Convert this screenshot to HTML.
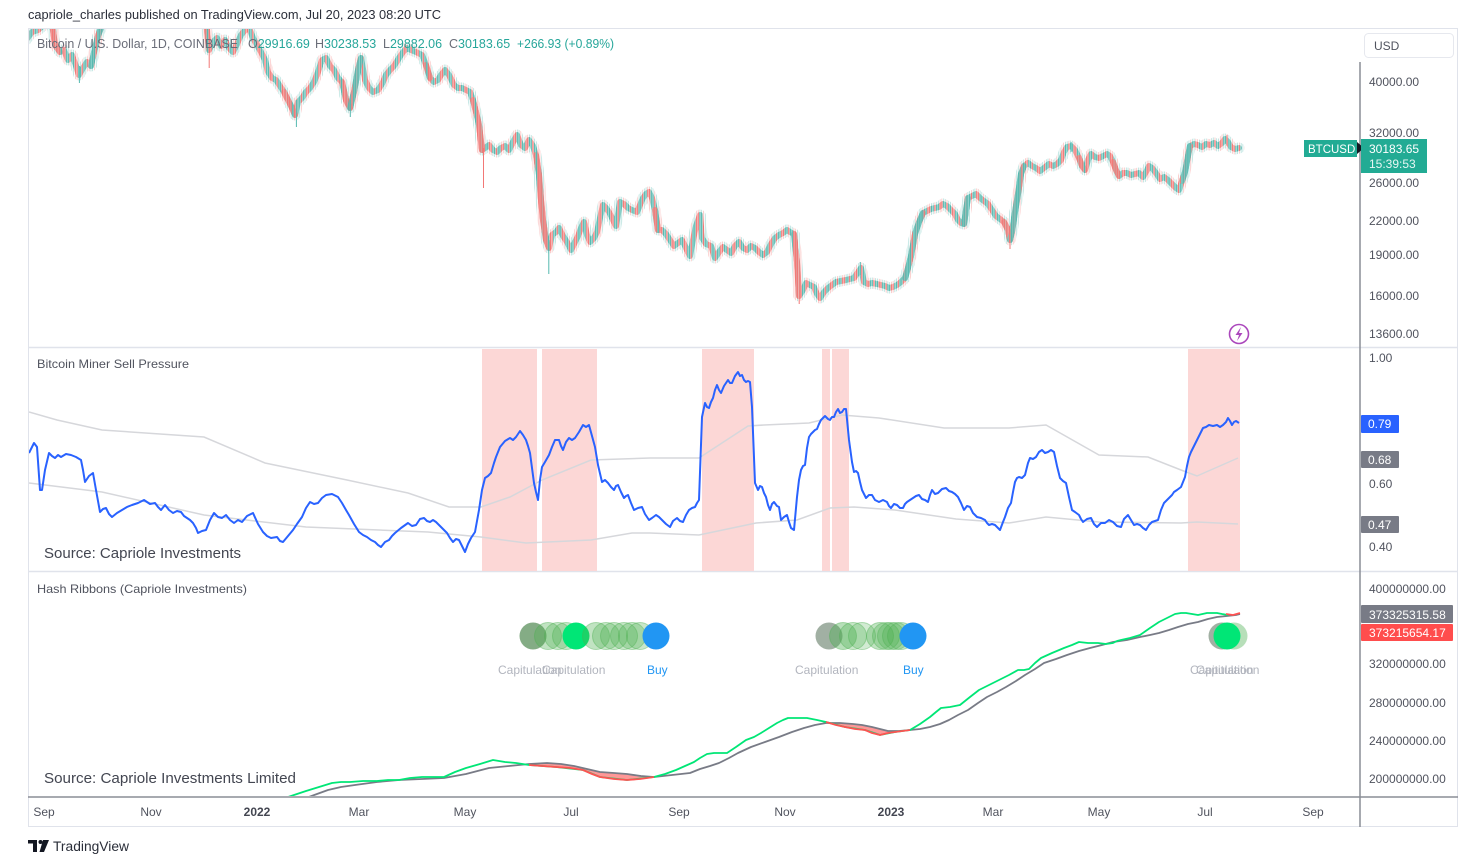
<!DOCTYPE html>
<html>
<head>
<meta charset="utf-8">
<style>
html,body{margin:0;padding:0;background:#fff;}
body{width:1472px;height:865px;overflow:hidden;}
svg{display:block;font-family:"Liberation Sans",sans-serif;}
.ax{font-size:12px;fill:#50535e;}
.lbl{font-size:12px;fill:#50535e;}
</style>
</head>
<body>
<svg width="1472" height="865" viewBox="0 0 1472 865" xmlns="http://www.w3.org/2000/svg">
<defs>
  <clipPath id="c1"><rect x="29" y="29" width="1331" height="318"/></clipPath>
  <clipPath id="c2"><rect x="29" y="349" width="1331" height="222"/></clipPath>
  <clipPath id="c3"><rect x="29" y="573" width="1331" height="223"/></clipPath>
  <pattern id="pc" patternUnits="userSpaceOnUse" x="43.35" y="0" width="12.18" height="10">
    <rect x="0" y="0" width="1.3" height="10" fill="#26a69a"/>
    <rect x="1.74" y="0" width="1.3" height="10" fill="#ef5350"/>
    <rect x="3.48" y="0" width="1.3" height="10" fill="#26a69a"/>
    <rect x="5.22" y="0" width="1.3" height="10" fill="#26a69a"/>
    <rect x="6.96" y="0" width="1.3" height="10" fill="#ef5350"/>
    <rect x="8.70" y="0" width="1.3" height="10" fill="#ef5350"/>
    <rect x="10.44" y="0" width="1.3" height="10" fill="#26a69a"/>
  </pattern>
  <pattern id="pw" patternUnits="userSpaceOnUse" x="43.35" y="0" width="12.18" height="10">
    <rect x="0.35" y="0" width="0.6" height="10" fill="#26a69a"/>
    <rect x="2.09" y="0" width="0.6" height="10" fill="#ef5350"/>
    <rect x="3.83" y="0" width="0.6" height="10" fill="#26a69a"/>
    <rect x="5.57" y="0" width="0.6" height="10" fill="#26a69a"/>
    <rect x="7.31" y="0" width="0.6" height="10" fill="#ef5350"/>
    <rect x="9.05" y="0" width="0.6" height="10" fill="#ef5350"/>
    <rect x="10.79" y="0" width="0.6" height="10" fill="#26a69a"/>
  </pattern>
  <pattern id="pr" patternUnits="userSpaceOnUse" x="43.35" y="0" width="12.18" height="10">
    <rect x="0" y="0" width="1.3" height="10" fill="#ef5350"/>
    <rect x="1.74" y="0" width="1.3" height="10" fill="#ef5350"/>
    <rect x="3.48" y="0" width="1.3" height="10" fill="#ef5350"/>
    <rect x="5.22" y="0" width="1.3" height="10" fill="#26a69a"/>
    <rect x="6.96" y="0" width="1.3" height="10" fill="#ef5350"/>
    <rect x="8.70" y="0" width="1.3" height="10" fill="#ef5350"/>
    <rect x="10.44" y="0" width="1.3" height="10" fill="#ef5350"/>
  </pattern>
  <pattern id="pg" patternUnits="userSpaceOnUse" x="43.35" y="0" width="12.18" height="10">
    <rect x="0" y="0" width="1.3" height="10" fill="#26a69a"/>
    <rect x="1.74" y="0" width="1.3" height="10" fill="#26a69a"/>
    <rect x="3.48" y="0" width="1.3" height="10" fill="#ef5350"/>
    <rect x="5.22" y="0" width="1.3" height="10" fill="#26a69a"/>
    <rect x="6.96" y="0" width="1.3" height="10" fill="#26a69a"/>
    <rect x="8.70" y="0" width="1.3" height="10" fill="#26a69a"/>
    <rect x="10.44" y="0" width="1.3" height="10" fill="#26a69a"/>
  </pattern>
</defs>
<rect x="0" y="0" width="1472" height="865" fill="#fff"/>

<!-- header -->
<text x="28" y="19" font-size="12.5" fill="#2a2e39" textLength="413" lengthAdjust="spacingAndGlyphs">capriole_charles published on TradingView.com, Jul 20, 2023 08:20 UTC</text>

<!-- frame -->
<rect x="28.5" y="28.5" width="1429" height="798" fill="none" stroke="#e0e3eb" stroke-width="1"/>
<line x1="28" y1="347.5" x2="1458" y2="347.5" stroke="#e0e3eb" stroke-width="1.5"/>
<line x1="28" y1="571.5" x2="1458" y2="571.5" stroke="#e0e3eb" stroke-width="1.5"/>

<!-- pink bands -->
<g fill="#fcd7d6">
  <rect x="482" y="349" width="55" height="222"/>
  <rect x="542" y="349" width="55" height="222"/>
  <rect x="702" y="349" width="52" height="222"/>
  <rect x="822" y="349" width="8" height="222"/>
  <rect x="832" y="349" width="17" height="222"/>
  <rect x="1188" y="349" width="52" height="222"/>
</g>

<!-- candles (static) -->
<g clip-path="url(#c1)" fill="none" stroke-linejoin="round" stroke-linecap="round" opacity="0.78">
  <g stroke="url(#pw)" stroke-width="11" opacity="0.6">
    <polyline points="26,40 32,32 38,30 44,25 50,20 53,30 55,45 60,52 64,50 68,60 72,55 76,66 79,75 83,68 87,62 91,66 95,48 98,36 102,25 106,10 110,-10"/>
    <polyline points="200,-10 204,0 207,30 209,50 213,42 217,38 221,46 225,40 229,48 233,52 237,44 241,35 245,30 249,28 253,38 257,45 261,52 265,60 268,72 272,78 276,80 280,86 284,92 288,100 292,108 295,115 298,102 302,98 306,92 310,88 314,82 318,72 322,60 326,58 330,66 334,70 338,78 342,82 346,100 350,108 354,92 358,70 361,58 365,80 369,88 373,92 378,90 382,84 386,75 390,70 394,66 399,58 403,52 407,48 411,50 416,52 422,55 426,65 430,78 434,82 438,80 441,75 445,70 449,75 454,85 458,88 462,88 466,90 470,92 473,100 476,112 479,125 482,150 485,148 489,145 493,150 497,152 501,148 505,146 509,150 513,142 517,135 521,145 525,148 529,140 533,146 536,155 539,175 541,200 543,220 546,240 549,248 552,235 556,232 559,228 563,236 567,242 571,250 575,242 578,236 581,228 584,222 587,235 590,242 594,238 597,232 600,218 603,205 606,208 609,212 613,220 616,226 620,202 624,204 628,208 632,210 637,212 640,205 643,198 646,194 649,192 652,198 655,210 658,230 662,230 666,234 670,240 674,246 678,243 682,240 686,248 690,256 693,240 696,226 700,215 702,238 706,244 711,246 715,258 719,252 723,247 727,250 731,253 735,246 739,242 743,248 747,250 751,246 755,248 759,252 763,255 767,252 771,244 775,238 779,235 783,233 787,230 790,232 794,234 797,262 799,296 803,290 806,283 810,285 814,287 817,294 820,298 824,292 828,288 832,285 836,282 841,281 846,280 850,279 854,278 858,272 861,268 864,282 868,284 872,283 877,284 881,285 885,286 889,288 893,287 897,285 901,282 905,278 908,268 911,256 913,245 915,234 919,222 923,213 927,211 931,209 935,208 939,207 943,204 947,206 951,210 955,214 958,220 961,223 964,224 966,210 968,198 972,196 976,194 980,198 984,201 988,204 992,210 996,216 1000,219 1004,222 1008,230 1010,240 1012,232 1015,212 1018,194 1021,174 1024,166 1028,163 1032,166 1036,168 1040,171 1044,168 1049,164 1053,166 1057,164 1061,160 1064,152 1067,147 1071,146 1075,150 1079,158 1082,166 1085,170 1088,160 1091,154 1095,157 1099,158 1103,156 1107,154 1110,156 1113,162 1116,170 1119,176 1123,173 1127,173 1131,175 1135,174 1139,173 1143,177 1146,172 1149,166 1152,168 1156,173 1160,179 1164,177 1168,180 1172,184 1176,188 1179,190 1182,181 1185,172 1188,156 1190,146 1194,144 1198,145 1202,147 1206,144 1210,145 1214,143 1218,146 1222,143 1225,139 1228,142 1231,147 1235,149 1239,148"/>
  </g>
  <g stroke="url(#pc)" stroke-width="6">
    <polyline points="26,40 32,32 38,30 44,25 50,20 53,30 55,45 60,52 64,50 68,60 72,55 76,66 79,75 83,68 87,62 91,66 95,48 98,36 102,25 106,10 110,-10"/>
    <polyline points="200,-10 204,0 207,30 209,50 213,42 217,38 221,46 225,40 229,48 233,52 237,44 241,35 245,30 249,28 253,38 257,45 261,52 265,60 268,72 272,78 276,80 280,86 284,92 288,100 292,108 295,115 298,102 302,98 306,92 310,88 314,82 318,72 322,60 326,58 330,66 334,70 338,78 342,82 346,100 350,108 354,92 358,70 361,58 365,80 369,88 373,92 378,90 382,84 386,75 390,70 394,66 399,58 403,52 407,48 411,50 416,52 422,55 426,65 430,78 434,82 438,80 441,75 445,70 449,75 454,85 458,88 462,88 466,90 470,92 473,100 476,112 479,125 482,150 485,148 489,145 493,150 497,152 501,148 505,146 509,150 513,142 517,135 521,145 525,148 529,140 533,146 536,155 539,175 541,200 543,220 546,240 549,248 552,235 556,232 559,228 563,236 567,242 571,250 575,242 578,236 581,228 584,222 587,235 590,242 594,238 597,232 600,218 603,205 606,208 609,212 613,220 616,226 620,202 624,204 628,208 632,210 637,212 640,205 643,198 646,194 649,192 652,198 655,210 658,230 662,230 666,234 670,240 674,246 678,243 682,240 686,248 690,256 693,240 696,226 700,215 702,238 706,244 711,246 715,258 719,252 723,247 727,250 731,253 735,246 739,242 743,248 747,250 751,246 755,248 759,252 763,255 767,252 771,244 775,238 779,235 783,233 787,230 790,232 794,234 797,262 799,296 803,290 806,283 810,285 814,287 817,294 820,298 824,292 828,288 832,285 836,282 841,281 846,280 850,279 854,278 858,272 861,268 864,282 868,284 872,283 877,284 881,285 885,286 889,288 893,287 897,285 901,282 905,278 908,268 911,256 913,245 915,234 919,222 923,213 927,211 931,209 935,208 939,207 943,204 947,206 951,210 955,214 958,220 961,223 964,224 966,210 968,198 972,196 976,194 980,198 984,201 988,204 992,210 996,216 1000,219 1004,222 1008,230 1010,240 1012,232 1015,212 1018,194 1021,174 1024,166 1028,163 1032,166 1036,168 1040,171 1044,168 1049,164 1053,166 1057,164 1061,160 1064,152 1067,147 1071,146 1075,150 1079,158 1082,166 1085,170 1088,160 1091,154 1095,157 1099,158 1103,156 1107,154 1110,156 1113,162 1116,170 1119,176 1123,173 1127,173 1131,175 1135,174 1139,173 1143,177 1146,172 1149,166 1152,168 1156,173 1160,179 1164,177 1168,180 1172,184 1176,188 1179,190 1182,181 1185,172 1188,156 1190,146 1194,144 1198,145 1202,147 1206,144 1210,145 1214,143 1218,146 1222,143 1225,139 1228,142 1231,147 1235,149 1239,148"/>
  </g>
  <g stroke="url(#pr)" stroke-width="6">
    <polyline points="53,30 55,45 60,52"/>
    <polyline points="204,0 207,30 209,50"/>
    <polyline points="284,92 288,100 292,108 295,115"/>
    <polyline points="342,82 346,100 350,108"/>
    <polyline points="426,65 430,78"/>
    <polyline points="473,100 476,112 479,125 482,150"/>
    <polyline points="536,155 539,175 541,200 543,220 546,240 549,248"/>
    <polyline points="655,210 658,230"/>
    <polyline points="794,234 797,262 799,296"/>
    <polyline points="1004,222 1008,230 1010,240"/>
    <polyline points="1079,158 1082,166 1085,170"/>
    <polyline points="1113,162 1116,170 1119,176"/>
  </g>
  <g stroke="url(#pg)" stroke-width="6">
    <polyline points="91,66 95,48 98,36 102,25 106,10"/>
    <polyline points="350,108 354,92 358,70 361,58"/>
    <polyline points="905,278 908,268 911,256 913,245 915,234 919,222 923,213"/>
    <polyline points="964,224 966,210 968,198"/>
    <polyline points="1010,240 1012,232 1015,212 1018,194 1021,174 1024,166"/>
    <polyline points="1182,181 1185,172 1188,156 1190,146"/>
  </g>
  <g stroke-width="1" stroke-linecap="butt">
    <line x1="79.4" y1="66" x2="79.4" y2="83" stroke="#26a69a"/>
    <line x1="209.2" y1="40" x2="209.2" y2="68" stroke="#ef5350"/>
    <line x1="296.4" y1="100" x2="296.4" y2="127" stroke="#26a69a"/>
    <line x1="350.3" y1="100" x2="350.3" y2="117" stroke="#26a69a"/>
    <line x1="483.5" y1="148" x2="483.5" y2="188" stroke="#ef5350"/>
    <line x1="548.8" y1="240" x2="548.8" y2="274" stroke="#26a69a"/>
    <line x1="799.2" y1="290" x2="799.2" y2="304" stroke="#ef5350"/>
    <line x1="860.3" y1="262" x2="860.3" y2="275" stroke="#26a69a"/>
    <line x1="1010" y1="232" x2="1010" y2="249" stroke="#ef5350"/>
    <line x1="1227" y1="135" x2="1227" y2="146" stroke="#ef5350"/>
    <line x1="700" y1="213" x2="700" y2="226" stroke="#26a69a"/>
    <line x1="1071" y1="142" x2="1071" y2="152" stroke="#26a69a"/>
  </g>
</g>

<!-- legend -->
<text x="37" y="48" font-size="12.5" fill="#6a6d78" textLength="201" lengthAdjust="spacingAndGlyphs">Bitcoin / U.S. Dollar, 1D, COINBASE</text>
<text x="248" y="48" font-size="12.5" fill="#6a6d78">O<tspan fill="#26a69a">29916.69</tspan></text>
<text x="315" y="48" font-size="12.5" fill="#6a6d78">H<tspan fill="#26a69a">30238.53</tspan></text>
<text x="383" y="48" font-size="12.5" fill="#6a6d78">L<tspan fill="#26a69a">29882.06</tspan></text>
<text x="449" y="48" font-size="12.5" fill="#6a6d78">C<tspan fill="#26a69a">30183.65</tspan></text>
<text x="517" y="48" font-size="12.5" fill="#26a69a" textLength="97" lengthAdjust="spacingAndGlyphs">+266.93 (+0.89%)</text>

<!-- lightning icon -->
<circle cx="1239" cy="334" r="9.5" fill="#fff" stroke="#ab47bc" stroke-width="1.6"/>
<path d="M1241 327 L1235.5 335 L1239 335 L1237 341 L1242.5 333 L1239 333 Z" fill="#ab47bc"/>

<!-- middle pane -->
<text x="37" y="368" class="lbl" textLength="152" lengthAdjust="spacingAndGlyphs">Bitcoin Miner Sell Pressure</text>
<g clip-path="url(#c2)" fill="none">
  <polyline stroke="#d6d7db" stroke-width="1.5" points="29,412 57,420 102,430 204,437 265,463 347,480 408,493 449,507 481,507 510,497 542,480 591,460 650,458 699,458 748,426 764,425 809,423 842,415 879,418 944,428 1009,428 1046,425 1099,455 1148,457 1181,470 1197,476 1238,458"/>
  <polyline stroke="#d6d7db" stroke-width="1.5" points="29,483 102,492 204,515 306,527 428,532 481,537 526,543 591,540 632,533 650,533 699,535 756,523 797,520 830,508 854,507 895,510 956,519 1009,523 1046,517 1099,522 1181,523 1197,522 1238,524"/>
  <polyline stroke="#2962ff" stroke-width="2" stroke-linejoin="round" points="29,453 34,443 37,447 40,490 42,490 45,470 49,453 52,456 55,458 58,455 61,457 66,454 71,455 76,457 81,460 83,470 85,482 89,476 93,473 96,490 100,512 103,509 106,508 109,514 112,517 117,513 122,510 127,507 132,505 138,503 144,500 150,504 155,503 158,507 161,510 165,505 169,510 173,513 177,511 181,512 184,516 187,518 190,520 193,523 196,528 198,533 202,531 206,530 210,520 214,513 218,517 222,518 226,515 230,520 234,523 238,520 242,522 247,516 253,513 258,524 263,532 267,536 271,538 277,537 280,541 283,542 288,536 293,530 297,524 302,517 306,508 310,502 314,504 318,503 322,498 326,495 332,494 338,497 342,503 346,510 349,515 354,524 359,532 363,535 367,537 371,540 375,542 378,545 381,547 385,542 389,540 392,536 395,533 401,528 408,523 412,526 416,525 420,519 424,518 427,521 430,522 433,520 436,522 441,527 447,533 450,538 453,542 456,539 459,540 462,546 465,552 468,544 471,538 475,532 479,510 482,490 485,478 488,476 491,473 494,463 496,457 500,447 505,441 510,438 513,440 516,437 520,431 523,435 526,440 528,446 530,453 532,468 534,483 536,492 538,500 540,480 542,467 545,462 549,455 552,447 555,440 559,440 561,446 563,450 566,442 569,438 572,440 575,438 579,432 583,425 586,427 589,425 592,436 595,447 598,465 602,482 605,480 608,483 611,487 614,490 616,486 618,485 621,492 624,498 626,496 628,495 631,503 634,510 638,508 642,507 645,514 649,520 652,518 656,515 659,517 662,520 666,524 670,527 673,521 677,518 680,521 683,522 686,515 689,510 692,508 695,507 697,503 699,500 702,417 705,403 707,407 709,408 711,402 713,398 715,390 717,385 719,390 721,393 724,386 728,380 730,383 732,383 735,376 738,372 740,376 742,375 744,380 746,382 748,381 750,382 752,407 755,483 758,490 760,486 762,487 764,493 766,497 768,505 770,510 772,504 774,502 777,506 779,507 781,520 784,517 787,515 789,522 791,528 794,530 797,497 799,480 801,470 803,466 805,465 807,448 809,437 811,434 813,432 815,430 817,429 819,424 821,420 823,418 825,416 828,419 830,420 832,417 834,417 836,412 838,409 840,413 842,412 844,409 846,409 849,440 852,462 854,472 856,471 858,473 860,482 862,490 864,494 866,498 869,495 872,495 875,500 879,502 883,500 887,502 889,506 891,508 894,504 897,505 900,508 903,508 905,504 907,502 910,500 913,498 916,496 919,495 922,499 925,500 928,502 930,495 932,490 935,494 938,493 942,489 946,488 949,491 952,492 955,494 958,497 961,503 964,510 967,506 970,507 973,513 977,517 981,518 985,520 987,523 989,525 992,524 995,525 998,528 1000,530 1003,522 1005,517 1008,508 1011,503 1013,492 1015,482 1017,478 1019,477 1022,478 1025,475 1028,463 1030,458 1033,459 1036,457 1039,452 1042,450 1045,453 1048,452 1051,450 1054,452 1057,466 1060,478 1063,481 1066,483 1069,497 1072,510 1075,512 1079,515 1081,519 1083,522 1087,519 1091,518 1094,524 1097,527 1101,523 1105,523 1109,520 1113,522 1117,526 1121,527 1124,519 1128,515 1131,520 1134,525 1137,524 1140,525 1143,528 1146,530 1149,525 1152,522 1155,521 1158,520 1161,510 1164,503 1167,500 1170,497 1172,495 1174,492 1177,490 1181,487 1183,482 1185,477 1187,466 1189,457 1191,452 1193,448 1195,444 1197,440 1200,434 1203,428 1206,427 1209,425 1213,426 1217,425 1220,427 1223,425 1226,422 1228,418 1230,421 1232,425 1234,422 1236,421 1239,423"/>
</g>
<text x="44" y="558" font-size="14.5" fill="#434651" textLength="197" lengthAdjust="spacingAndGlyphs">Source: Capriole Investments</text>

<!-- bottom pane -->
<text x="37" y="593" class="lbl" textLength="210" lengthAdjust="spacingAndGlyphs">Hash Ribbons (Capriole Investments)</text>
<g clip-path="url(#c3)" fill="none" stroke-linejoin="round">
  <polygon fill="#ff5252" fill-opacity="0.6" points="529,765 556,767 583,770 600,777 627,780 654,777 627,774 600,772 574,766 547,763 529,764"/>
  <polygon fill="#ff5252" fill-opacity="0.6" points="826,722 845,727 865,730 880,735 895,732 910,730 888,731 872,727 853,724 826,723"/>
  <polyline stroke="#787b86" stroke-width="1.8" points="306,798 317,794 328,790 341,787 355,785 377,782 399,780 422,779 444,778 466,774 489,768 509,766 529,764 547,763 561,764 574,766 587,769 600,772 614,773 627,774 641,776 654,777 672,775 690,773 700,769 710,766 719,763 729,758 738,753 751,747 765,742 779,737 792,732 804,728 815,725 826,723 840,723 853,724 862,725 872,727 880,729 888,731 899,731 910,730 920,729 930,727 940,724 949,720 958,715 968,710 978,703 987,697 997,692 1006,687 1016,681 1025,675 1035,669 1044,663 1056,659 1067,655 1079,651 1090,648 1102,645 1113,642 1127,640 1140,637 1150,635 1159,633 1169,630 1178,627 1188,624 1198,622 1208,619 1217,617 1227,616 1236,615 1240,614"/>
  <polyline stroke="#00e676" stroke-width="1.8" points="288,797 297,794 306,791 319,787 332,783 341,782 350,782 363,781 377,781 388,780 399,780 410,778 422,777 433,777 444,777 455,772 466,768 480,764 493,760 505,762 516,763 529,765 556,767 583,770 600,777 627,780 654,777 665,774 676,770 685,766 694,762 700,758 707,754 714,753 720,753 727,753 736,747 746,740 754,737 761,733 769,728 777,723 783,720 788,718 797,718 807,718 817,720 826,722 845,727 865,730 880,735 895,732 910,730 920,724 930,717 936,712 941,708 950,707 960,705 970,697 979,690 989,685 999,680 1009,675 1018,670 1024,670 1029,669 1035,663 1041,658 1052,653 1064,648 1072,645 1079,642 1088,643 1098,643 1106,644 1113,643 1117,641 1121,640 1130,638 1140,635 1150,628 1159,622 1167,618 1175,614 1181,613 1186,613 1192,614 1198,615 1207,613 1217,613 1222,614 1228,615"/>
  <g stroke="#ff5252" stroke-width="1.8">
    <polyline points="529,765 542,766 556,767 570,768 583,770 592,774 600,777 614,779 627,780 640,779 654,777"/>
    <polyline points="826,722 836,725 845,727 855,729 865,730 872,733 880,735 888,733 895,732 910,730"/>
    <polyline points="1226,614 1233,615 1240,613"/>
  </g>
</g>

<!-- bubbles group 1 -->
<g>
  <circle cx="533" cy="636" r="13.5" fill="#6f9d70" fill-opacity="0.85"/>
  <circle cx="548" cy="636" r="13.5" fill="#4caf50" fill-opacity="0.35" stroke="#4caf50" stroke-opacity="0.4"/>
  <circle cx="558" cy="636" r="13.5" fill="#4caf50" fill-opacity="0.3" stroke="#4caf50" stroke-opacity="0.4"/>
  <circle cx="566" cy="636" r="13.5" fill="#4caf50" fill-opacity="0.3" stroke="#4caf50" stroke-opacity="0.4"/>
  <circle cx="576" cy="636" r="13.5" fill="#00e676"/>
  <circle cx="596" cy="636" r="13.5" fill="#4caf50" fill-opacity="0.35" stroke="#4caf50" stroke-opacity="0.4"/>
  <circle cx="606" cy="636" r="13.5" fill="#4caf50" fill-opacity="0.3" stroke="#4caf50" stroke-opacity="0.4"/>
  <circle cx="614" cy="636" r="13.5" fill="#4caf50" fill-opacity="0.3" stroke="#4caf50" stroke-opacity="0.4"/>
  <circle cx="624" cy="636" r="13.5" fill="#4caf50" fill-opacity="0.3" stroke="#4caf50" stroke-opacity="0.4"/>
  <circle cx="632" cy="636" r="13.5" fill="#4caf50" fill-opacity="0.3" stroke="#4caf50" stroke-opacity="0.4"/>
  <circle cx="640" cy="636" r="13.5" fill="#4caf50" fill-opacity="0.3" stroke="#4caf50" stroke-opacity="0.4"/>
  <circle cx="656" cy="636" r="13.5" fill="#2196f3"/>
  <text x="498" y="674" font-size="12" fill="#b2b5be">Capitulation</text>
  <text x="542" y="674" font-size="12" fill="#b2b5be">Capitulation</text>
  <text x="647" y="674" font-size="12" fill="#2196f3">Buy</text>
</g>
<!-- bubbles group 2 -->
<g>
  <circle cx="829" cy="636" r="13.5" fill="#8a9c8c" fill-opacity="0.8"/>
  <circle cx="843" cy="636" r="13.5" fill="#4caf50" fill-opacity="0.4" stroke="#4caf50" stroke-opacity="0.4"/>
  <circle cx="853" cy="636" r="13.5" fill="#4caf50" fill-opacity="0.3" stroke="#4caf50" stroke-opacity="0.4"/>
  <circle cx="862" cy="636" r="13.5" fill="#4caf50" fill-opacity="0.25" stroke="#4caf50" stroke-opacity="0.4"/>
  <circle cx="880" cy="636" r="13.5" fill="#4caf50" fill-opacity="0.35" stroke="#4caf50" stroke-opacity="0.4"/>
  <circle cx="886" cy="636" r="13.5" fill="#4caf50" fill-opacity="0.3" stroke="#4caf50" stroke-opacity="0.4"/>
  <circle cx="891" cy="636" r="13.5" fill="#4caf50" fill-opacity="0.3" stroke="#4caf50" stroke-opacity="0.4"/>
  <circle cx="896" cy="636" r="13.5" fill="#4caf50" fill-opacity="0.3" stroke="#4caf50" stroke-opacity="0.4"/>
  <circle cx="901" cy="636" r="13.5" fill="#4caf50" fill-opacity="0.3" stroke="#4caf50" stroke-opacity="0.4"/>
  <circle cx="913" cy="636" r="13.5" fill="#2196f3"/>
  <text x="795" y="674" font-size="12" fill="#b2b5be">Capitulation</text>
  <text x="903" y="674" font-size="12" fill="#2196f3">Buy</text>
</g>
<!-- bubbles group 3 -->
<g>
  <circle cx="1234" cy="636" r="13.5" fill="#4caf50" fill-opacity="0.4"/>
  <circle cx="1222" cy="636" r="13.5" fill="#8a9c8c" fill-opacity="0.8"/>
  <circle cx="1227" cy="636" r="13.5" fill="#00e676"/>
  <text x="1190" y="674" font-size="12" fill="#b2b5be">Capitulation</text>
  <text x="1196" y="674" font-size="12" fill="#b2b5be">Capitulation</text>
</g>

<text x="44" y="783" font-size="14.5" fill="#434651" textLength="252" lengthAdjust="spacingAndGlyphs">Source: Capriole Investments Limited</text>

<!-- x axis -->
<line x1="28" y1="797" x2="1458" y2="797" stroke="#8a8d96" stroke-width="1.5"/>
<g class="ax" text-anchor="middle">
  <text x="44" y="816">Sep</text>
  <text x="151" y="816">Nov</text>
  <text x="257" y="816" font-weight="bold" fill="#434651">2022</text>
  <text x="359" y="816">Mar</text>
  <text x="465" y="816">May</text>
  <text x="571" y="816">Jul</text>
  <text x="679" y="816">Sep</text>
  <text x="785" y="816">Nov</text>
  <text x="891" y="816" font-weight="bold" fill="#434651">2023</text>
  <text x="993" y="816">Mar</text>
  <text x="1099" y="816">May</text>
  <text x="1205" y="816">Jul</text>
  <text x="1313" y="816">Sep</text>
</g>

<!-- right axis -->
<line x1="1360" y1="62" x2="1360" y2="827" stroke="#8a8d96" stroke-width="1.5"/>
<rect x="1364.5" y="33.5" width="89" height="24" rx="4" fill="#fff" stroke="#e6e8ee"/>
<text x="1374" y="50" class="ax" fill="#2a2e39">USD</text>
<g class="ax">
  <text x="1369" y="86">40000.00</text>
  <text x="1369" y="137">32000.00</text>
  <text x="1369" y="187">26000.00</text>
  <text x="1369" y="225">22000.00</text>
  <text x="1369" y="259">19000.00</text>
  <text x="1369" y="300">16000.00</text>
  <text x="1369" y="338">13600.00</text>
  <text x="1369" y="362">1.00</text>
  <text x="1369" y="488">0.60</text>
  <text x="1369" y="551">0.40</text>
  <text x="1369" y="593">400000000.00</text>
  <text x="1369" y="668">320000000.00</text>
  <text x="1369" y="707">280000000.00</text>
  <text x="1369" y="745">240000000.00</text>
  <text x="1369" y="783">200000000.00</text>
</g>
<!-- price tags -->
<rect x="1304" y="140" width="53" height="17" fill="#22ab94"/>
<text x="1308" y="153" font-size="11.5" fill="#fff">BTCUSD</text>
<polygon points="1357,142 1364,148 1357,154" fill="#131722"/>
<rect x="1361" y="139" width="66" height="34" fill="#22ab94"/>
<text x="1369" y="153" font-size="12" fill="#fff">30183.65</text>
<text x="1369" y="168" font-size="12" fill="#e6f6f3">15:39:53</text>

<rect x="1361" y="415" width="38" height="18" rx="1" fill="#2962ff"/>
<text x="1368" y="428" font-size="12" fill="#fff">0.79</text>
<rect x="1361" y="451" width="38" height="17" rx="1" fill="#787b86"/>
<text x="1368" y="464" font-size="12" fill="#fff">0.68</text>
<rect x="1361" y="516" width="38" height="17" rx="1" fill="#787b86"/>
<text x="1368" y="529" font-size="12" fill="#fff">0.47</text>

<rect x="1361" y="605" width="92" height="18" rx="1" fill="#787b86"/>
<text x="1369" y="619" font-size="12" fill="#fff">373325315.58</text>
<rect x="1361" y="624" width="92" height="17" rx="1" fill="#ff4d4d"/>
<text x="1369" y="637" font-size="12" fill="#fff">373215654.17</text>

<!-- footer logo -->
<g fill="#131722">
  <rect x="28" y="840" width="9" height="3.5"/>
  <rect x="33" y="840" width="4" height="12"/>
  <circle cx="40.5" cy="842" r="2"/>
  <polygon points="43,840 49,840 44,852 39.5,852"/>
</g>
<text x="53" y="851" font-size="13.5" fill="#2a2e39" textLength="76" lengthAdjust="spacingAndGlyphs">TradingView</text>
</svg>
</body>
</html>
